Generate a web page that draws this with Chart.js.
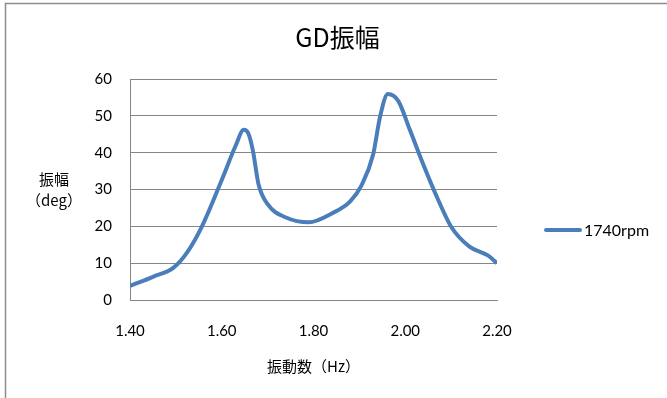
<!DOCTYPE html>
<html>
<head>
<meta charset="utf-8">
<script src="https://cdn.jsdelivr.net/npm/chart.js@4.4.0/dist/chart.umd.min.js"></script>
<style>
  html, body { margin: 0; padding: 0; background: #fff; }
  #wrap { width: 667px; height: 398px; }
</style>
</head>
<body>
<div id="wrap"><canvas id="chart" width="667" height="398"></canvas></div>
<script>
// 振動数 (Hz) と GD振幅 (deg)
const freqs = [1.40, 1.45, 1.495, 1.525, 1.555, 1.60, 1.63, 1.648, 1.658, 1.668, 1.68, 1.70, 1.74, 1.79, 1.84, 1.88, 1.905, 1.93, 1.945, 1.962, 1.985, 2.01, 2.04, 2.07, 2.10, 2.14, 2.18, 2.20];
const amps  = [3.8, 6.3, 8.8, 13.0, 19.5, 32.6, 41.8, 46.2, 45.2, 40.5, 31.5, 26.0, 22.4, 21.1, 23.5, 26.8, 31.2, 39.5, 49.7, 55.9, 54.0, 46.2, 36.6, 27.7, 19.9, 14.5, 12.1, 10.0];
const seriesName = '1740rpm';
const xTicks = [1.40, 1.60, 1.80, 2.00, 2.20];
const yTicks = [0, 10, 20, 30, 40, 50, 60];

const FONT = 'Lato, "Noto Sans CJK JP", sans-serif';
const JP = '"Noto Sans CJK JP", Lato, sans-serif';
const BLUE = '#4a7ebb';
const GRID = '#868686';

const points = freqs.map((f, i) => ({ x: f, y: amps[i] }));

// 外枠、y軸の横書きタイトル、凡例
const extras = {
  id: 'extras',
  afterLayout(chart) {
    // タイトルはキャンバス全幅の中央に置く
    const t = chart.titleBlock;
    t.left = 8;
    t.right = chart.width;
    t.width = t.right - t.left;
  },
  beforeDraw(chart) {
    const ctx = chart.ctx;
    ctx.save();
    ctx.fillStyle = '#fff';
    ctx.fillRect(0, 0, chart.width, chart.height);
    ctx.strokeStyle = '#8c8c8c';
    ctx.lineWidth = 1.5;
    ctx.strokeRect(5.5, 3.5, 800, 600);
    ctx.restore();
  },
  afterDraw(chart) {
    const ctx = chart.ctx;
    const ds = chart.data.datasets[0];
    ctx.save();
    ctx.fillStyle = '#000';
    ctx.textAlign = 'center';
    ctx.textBaseline = 'middle';
    ctx.font = '15px ' + JP;
    ctx.fillText('振幅', 54, 179);
    ctx.fillText('（deg）', 54, 200);

    // 凡例
    const ly = 230;
    ctx.strokeStyle = ds.borderColor;
    ctx.lineWidth = ds.borderWidth;
    ctx.lineCap = 'round';
    ctx.beginPath();
    ctx.moveTo(546, ly);
    ctx.lineTo(580, ly);
    ctx.stroke();
    ctx.textAlign = 'left';
    ctx.font = '16px ' + FONT;
    ctx.fillText(ds.label, 584, ly + 1);
    ctx.restore();
  }
};

new Chart(document.getElementById('chart'), {
  type: 'scatter',
  data: {
    datasets: [{
      label: seriesName,
      data: points,
      showLine: true,
      borderColor: BLUE,
      backgroundColor: BLUE,
      borderWidth: 4,
      pointRadius: 0,
      cubicInterpolationMode: 'monotone'
    }]
  },
  options: {
    responsive: false,
    animation: false,
    layout: { padding: { left: 0, right: 170, top: 0, bottom: 23 } },
    plugins: {
      title: {
        display: true,
        text: 'GD振幅',
        color: '#000',
        font: { family: JP, size: 25, weight: 'normal' },
        padding: { top: 22, bottom: 27 }
      },
      legend: { display: false },
      tooltip: { enabled: false }
    },
    scales: {
      x: {
        type: 'linear',
        min: 1.4,
        max: 2.2,
        afterBuildTicks: (s) => { s.ticks = xTicks.map(v => ({ value: v })); },
        ticks: {
          color: '#000',
          font: { family: FONT, size: 15 },
          padding: 22,
          maxRotation: 0,
          callback: (v) => Number(v).toFixed(2)
        },
        grid: { display: false, drawTicks: false },
        border: { display: true, color: GRID },
        title: {
          display: true,
          text: '振動数（Hz）',
          color: '#000',
          font: { family: JP, size: 15 },
          padding: { top: -5, bottom: 0 }
        }
      },
      y: {
        min: 0,
        max: 60,
        afterBuildTicks: (s) => { s.ticks = yTicks.map(v => ({ value: v })); },
        afterFit: (s) => { s.width = 130; },
        ticks: {
          color: '#000',
          font: { family: FONT, size: 15 },
          padding: 18
        },
        grid: { color: GRID, lineWidth: 1, drawTicks: false },
        border: { display: true, color: GRID }
      }
    }
  },
  plugins: [extras]
});
</script>
</body>
</html>
